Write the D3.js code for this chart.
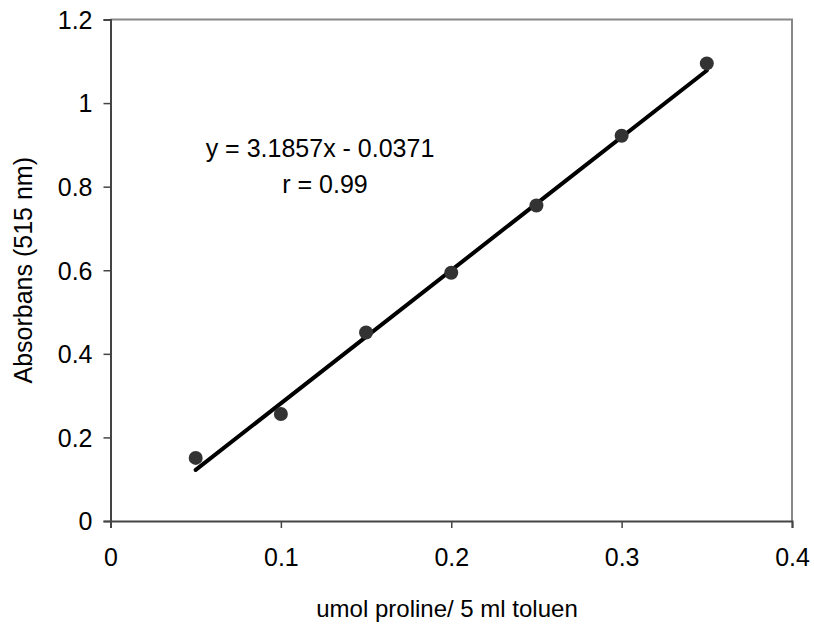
<!DOCTYPE html>
<html>
<head>
<meta charset="utf-8">
<script src="https://cdn.jsdelivr.net/npm/d3@7"></script>
<style>
  body { margin: 0; background: #fff; }
  svg { display: block; font-family: "Liberation Sans", Arial, sans-serif; }
</style>
</head>
<body>
<svg id="chart" width="814" height="626"></svg>
<script>
// Proline standard curve: amount vs. absorbance at 515 nm
const concentrations = [0.05, 0.10, 0.15, 0.20, 0.25, 0.30, 0.35];
const absorbance = [0.151, 0.256, 0.451, 0.594, 0.755, 0.922, 1.095];
const slope = 3.1857;
const intercept = -0.0371;
const xTicks = [0, 0.1, 0.2, 0.3, 0.4];
const yTicks = [0, 0.2, 0.4, 0.6, 0.8, 1, 1.2];
const equationLabel = "y = 3.1857x - 0.0371";
const rLabel = "r = 0.99";

const svg = d3.select("#chart");
const margin = { left: 110.5, right: 22, top: 19.5, bottom: 105 };
const W = 814, H = 626;
const FONT = '"Liberation Sans", Arial, sans-serif';

const x = d3.scaleLinear().domain([0, 0.4]).range([margin.left, W - margin.right]);
const y = d3.scaleLinear().domain([0, 1.2]).range([H - margin.bottom, margin.top]);

// Plot frame: top and right edges in grey
svg.append("path")
  .attr("d", `M${x(0)},${y(1.2)}H${x(0.4)}V${y(0)}`)
  .attr("fill", "none").attr("stroke", "#888").attr("stroke-width", 2);

// Axes
const xAxis = svg.append("g")
  .attr("transform", `translate(0,${y(0)})`)
  .call(d3.axisBottom(x).tickValues(xTicks).tickFormat(d => String(d)).tickSize(7).tickPadding(20));
const yAxis = svg.append("g")
  .attr("transform", `translate(${x(0)},0)`)
  .call(d3.axisLeft(y).tickValues(yTicks).tickFormat(d => String(d)).tickSize(7).tickPadding(11));

[xAxis, yAxis].forEach(g => {
  g.select(".domain").attr("stroke", "#444").attr("stroke-width", 2);
  g.selectAll(".tick line").attr("stroke", "#444").attr("stroke-width", 1.5);
  g.selectAll(".tick text").attr("fill", "#000").style("font-size", "25px").style("font-family", FONT);
});
yAxis.selectAll(".tick text").attr("dy", "0.35em");

// Regression line over the measured range
const x0 = d3.min(concentrations), x1 = d3.max(concentrations);
svg.append("line")
  .attr("x1", x(x0)).attr("y1", y(slope * x0 + intercept))
  .attr("x2", x(x1)).attr("y2", y(slope * x1 + intercept))
  .attr("stroke", "#000").attr("stroke-width", 4).attr("stroke-linecap", "round");

// Measured points
svg.append("g").selectAll("circle")
  .data(concentrations.map((c, i) => [c, absorbance[i]]))
  .join("circle")
  .attr("cx", d => x(d[0])).attr("cy", d => y(d[1]))
  .attr("r", 7).attr("fill", "#333");

// Equation annotation
svg.append("text").attr("x", 320).attr("y", 157).attr("text-anchor", "middle")
  .style("font-size", "25px").text(equationLabel);
svg.append("text").attr("x", 325).attr("y", 193).attr("text-anchor", "middle")
  .style("font-size", "25px").text(rLabel);

// Axis titles
svg.append("text").attr("x", 447).attr("y", 617).attr("text-anchor", "middle")
  .style("font-size", "24px").text("umol proline/ 5 ml toluen");
svg.append("text").attr("transform", `translate(32,${(y(0) + y(1.2)) / 2}) rotate(-90)`)
  .attr("text-anchor", "middle").style("font-size", "25px").text("Absorbans (515 nm)");
</script>
</body>
</html>
